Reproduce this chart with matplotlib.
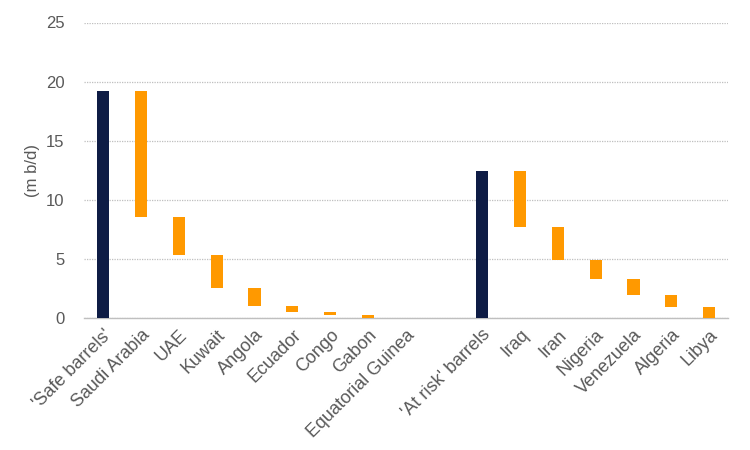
import matplotlib.pyplot as plt
import numpy as np

plt.rcParams['font.family'] = ['Liberation Sans', 'DejaVu Sans']

# category labels (empty slot between the two groups)
labels = ["'Safe barrels'", "Saudi Arabia", "UAE", "Kuwait", "Angola", "Ecuador",
          "Congo", "Gabon", "Equatorial Guinea", "",
          "'At risk' barrels", "Iraq", "Iran", "Nigeria", "Venezuela", "Algeria", "Libya"]

# totals (m b/d)
safe_total = 19.2
risk_total = 12.44

# country contributions (m b/d)
safe_countries = [10.63, 3.21, 2.79, 1.53, 0.53, 0.26, 0.20, 0.05]
risk_countries = [4.74, 2.77, 1.63, 1.35, 1.02, 0.93]

NAVY = "#0E1C45"
ORANGE = "#FF9900"


def waterfall(total, parts):
    bottoms, heights, colors = [0], [total], [NAVY]
    level = total
    for p in parts:
        level -= p
        bottoms.append(level)
        heights.append(p)
        colors.append(ORANGE)
    return bottoms, heights, colors


b1, h1, c1 = waterfall(safe_total, safe_countries)
b2, h2, c2 = waterfall(risk_total, risk_countries)
bottoms = b1 + [0] + b2
heights = h1 + [0] + h2
colors = c1 + ["none"] + c2

fig = plt.figure(figsize=(7.5, 4.5), dpi=100)
ax = fig.add_axes([0.112, 0.293, 0.859, 0.657])

x = np.arange(len(labels))
ax.bar(x, heights, bottom=bottoms, color=colors, width=0.32, zorder=3)

ax.set_xlim(-0.5, len(labels) - 0.5)
ax.set_ylim(0, 25)
ax.set_yticks(range(0, 26, 5))
ax.yaxis.grid(True, color="#BFBFBF", linestyle=(0, (1, 1)), linewidth=0.9, zorder=0)
ax.set_axisbelow(True)

for s in ["top", "right", "left"]:
    ax.spines[s].set_visible(False)
ax.spines["bottom"].set_color("#BFBFBF")
ax.spines["bottom"].set_linewidth(1)

ax.set_xticks(x)
ax.set_xticklabels(labels, rotation=45, ha="right", rotation_mode="anchor",
                   fontsize=13, color="#595959")
ax.tick_params(axis="x", length=0, pad=6)
ax.tick_params(axis="y", length=0, labelsize=12, labelcolor="#595959", pad=14)
ax.set_ylabel("(m b/d)", fontsize=12, color="#595959", labelpad=4)

fig.savefig("out.png", dpi=100)
